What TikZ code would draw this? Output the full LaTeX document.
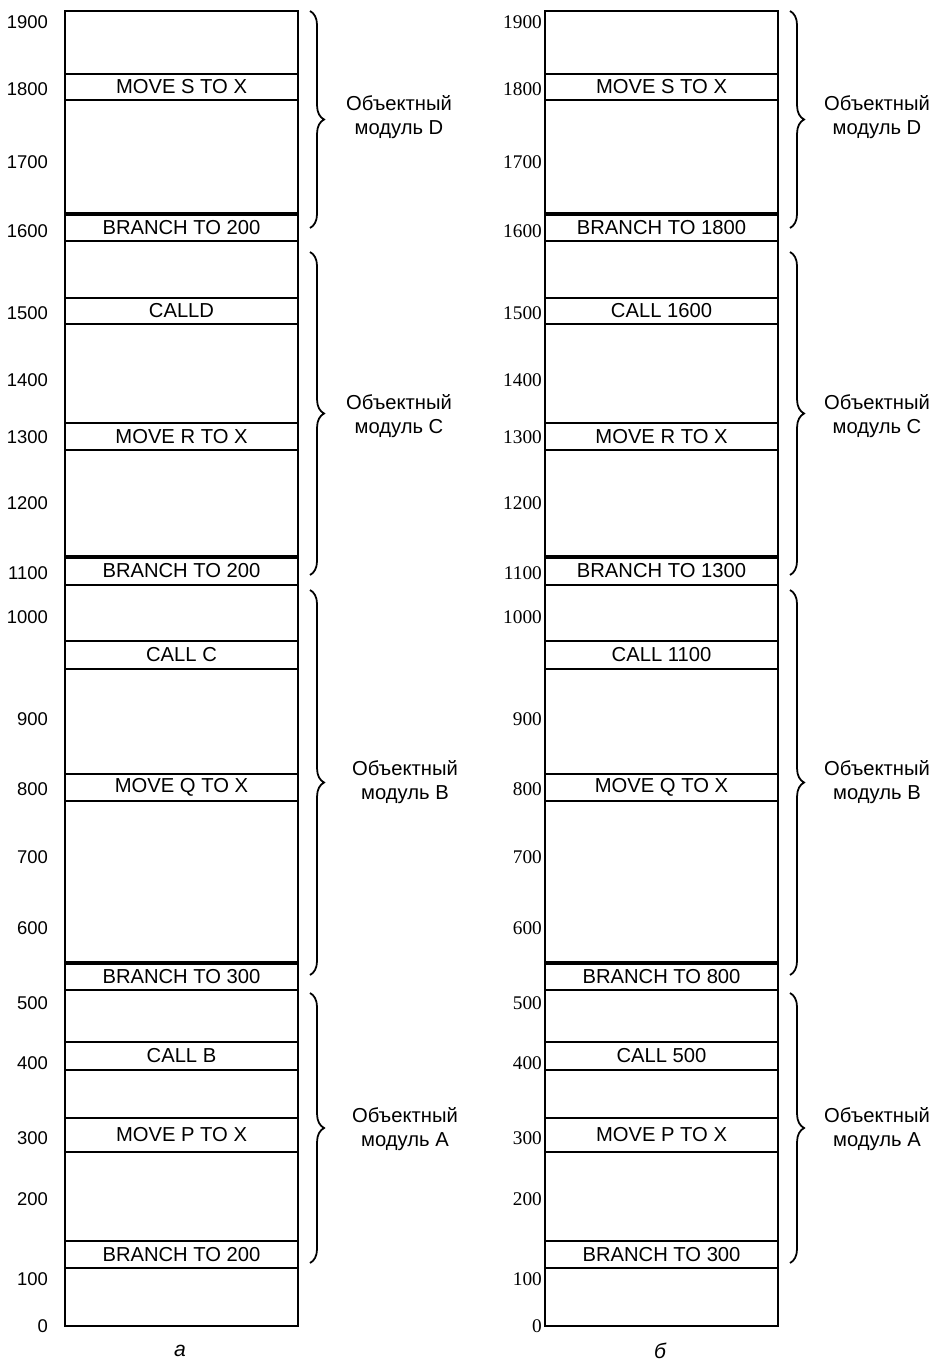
\documentclass[tikz,border=0pt]{standalone}
\usepackage{fontspec}
\setmainfont{Liberation Sans}
\newfontfamily\serifnum{Liberation Serif}
\usetikzlibrary{decorations.pathreplacing}

\begin{document}
\begin{tikzpicture}[
  x=0.02cm, y=-0.02cm,
  every node/.style={font=\fontsize{11.5}{13.5}\selectfont, inner sep=1pt},
  memline/.style={draw, line width=0.8pt},
  branchline/.style={draw, line width=2.4pt},
  memframe/.style={draw, line width=1.1pt},
  modbrace/.style={draw, line width=1pt, decorate, decoration={brace, amplitude=8pt}},
  modlabel/.style={align=center, font=\fontsize{11.5}{13.5}\selectfont},
  addr/.style={anchor=east, font=\fontsize{10.5}{12}\selectfont}
]
\useasboundingbox (0,0) rectangle (937,1365);

% memory columns
\draw[memframe] (65,11) rectangle (298,1326);
\draw[memframe] (545,11) rectangle (778,1326);

% instruction cells: offset / top / bottom / text
\foreach \ox/\ya/\yb/\txt [count=\i] in {
    0/74/100/{MOVE S TO X}, 0/214/241/{BRANCH\ TO 200}, 0/298/324/{CALLD},
    0/423/450/{MOVE R TO X}, 0/557/585/{BRANCH\ TO 200}, 0/641/669/{CALL C},
    0/774/801/{MOVE Q TO X}, 0/963/990/{BRANCH\ TO 300}, 0/1042/1070/{CALL B},
    0/1118/1152/{MOVE P TO X}, 0/1241/1268/{BRANCH\ TO 200},
    480/74/100/{MOVE S TO X}, 480/214/241/{BRANCH\ TO\ 1800}, 480/298/324/{CALL 1600},
    480/423/450/{MOVE R TO X}, 480/557/585/{BRANCH\ TO\ 1300}, 480/641/669/{CALL 1100},
    480/774/801/{MOVE Q TO X}, 480/963/990/{BRANCH\ TO 800}, 480/1042/1070/{CALL 500},
    480/1118/1152/{MOVE P TO X}, 480/1241/1268/{BRANCH\ TO 300}} {
  \draw[memline] (65+\ox,\ya) -- (298+\ox,\ya) (65+\ox,\yb) -- (298+\ox,\yb);
  \pgfmathsetmacro{\ym}{(\ya+\yb)/2}
  \node (cell\i) at (181.5+\ox,\ym) {\txt};
}

% jump targets start with a heavy line
\foreach \ox in {0,480}
  \foreach \yy in {214,557,963}
    \draw[branchline] (65+\ox,\yy) -- (298+\ox,\yy);

% addresses
\foreach \v/\yy in {1900/22, 1800/89, 1700/162, 1600/231, 1500/313, 1400/380,
    1300/437, 1200/503, 1100/573, 1000/617, 900/719, 800/789, 700/857,
    600/928, 500/1003, 400/1063, 300/1138, 200/1199, 100/1279, 0/1326} {
  \node[addr] (addrL\v) at (50,\yy) {\v};
  \node[addr, font=\serifnum\fontsize{11}{12}\selectfont] (addrR\v) at (544,\yy) {\v};
}

% object modules
\foreach \ox in {0,480} {
  \draw[modbrace] (310+\ox,11) -- (310+\ox,228);
  \draw[modbrace] (310+\ox,252) -- (310+\ox,575);
  \draw[modbrace] (310+\ox,590) -- (310+\ox,975);
  \draw[modbrace] (310+\ox,993) -- (310+\ox,1263);
}
\node[modlabel] (modDa) at (399,117) {Объектный\\модуль D};
\node[modlabel] (modCa) at (399,416) {Объектный\\модуль C};
\node[modlabel] (modBa) at (405,782) {Объектный\\модуль B};
\node[modlabel] (modAa) at (405,1129) {Объектный\\модуль A};
\node[modlabel] (modDb) at (877,117) {Объектный\\модуль D};
\node[modlabel] (modCb) at (877,416) {Объектный\\модуль C};
\node[modlabel] (modBb) at (877,782) {Объектный\\модуль B};
\node[modlabel] (modAb) at (877,1129) {Объектный\\модуль A};

% captions
\node[font=\itshape\fontsize{12}{14}\selectfont] (capa) at (180,1351) {а};
\node[font=\itshape\fontsize{12}{14}\selectfont] (capb) at (660,1351) {б};
\end{tikzpicture}
\end{document}
